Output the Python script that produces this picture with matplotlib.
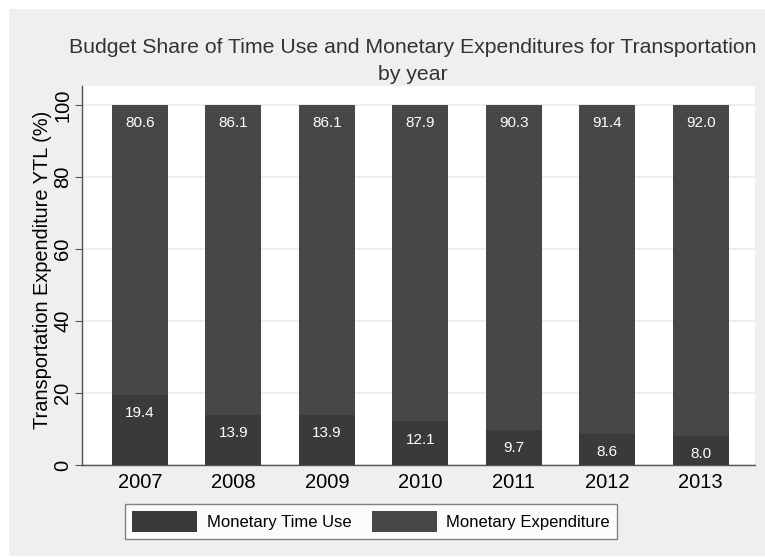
import matplotlib.pyplot as plt
from matplotlib.patches import Rectangle

plt.rcParams['font.family'] = ['Liberation Sans', 'DejaVu Sans']

years = ['2007', '2008', '2009', '2010', '2011', '2012', '2013']
time_use = [19.4, 13.9, 13.9, 12.1, 9.7, 8.6, 8.0]
expenditure = [80.6, 86.1, 86.1, 87.9, 90.3, 91.4, 92.0]

c_time = '#3a3a3a'
c_exp = '#474747'

fig = plt.figure(figsize=(7.65, 5.58), dpi=100, facecolor='white')
fig.patches.append(Rectangle((9 / 765, 2 / 558), 1 - 9 / 765, 1 - 11 / 558,
                             transform=fig.transFigure, facecolor='#efefef',
                             edgecolor='none', zorder=-10))

ax = fig.add_axes([82 / 765, 93 / 558, 673 / 765, 379 / 558])
ax.set_facecolor('white')

x = list(range(1, len(years) + 1))
ax.bar(x, time_use, width=0.6, color=c_time, label='Monetary Time Use', zorder=3)
ax.bar(x, expenditure, width=0.6, bottom=time_use, color=c_exp,
       label='Monetary Expenditure', zorder=3)

for xi, t, e in zip(x, time_use, expenditure):
    ax.annotate(f'{t:.1f}', (xi, t), xytext=(0, -13), textcoords='offset points',
                ha='center', va='center', color='white', fontsize=11, zorder=4)
    ax.annotate(f'{e:.1f}', (xi, t + e), xytext=(0, -13), textcoords='offset points',
                ha='center', va='center', color='white', fontsize=11, zorder=4)

ax.set_xlim(0.38, 7.58)
ax.set_ylim(0, 105.3)
ax.set_xticks(x)
ax.set_xticklabels(years, fontsize=14.5)
ax.set_yticks([0, 20, 40, 60, 80, 100])
ax.set_yticklabels(['0', '20', '40', '60', '80', '100'], rotation=90, va='center', fontsize=14.5)
ax.tick_params(axis='x', length=0, pad=6)
ax.tick_params(axis='y', length=5, color='#555555', pad=2)
ax.yaxis.grid(True, color='#eaeaea', linewidth=1.2, zorder=0)
ax.set_axisbelow(True)

for s in ['top', 'right']:
    ax.spines[s].set_visible(False)
for s in ['left', 'bottom']:
    ax.spines[s].set_color('#555555')
    ax.spines[s].set_linewidth(1)

ax.set_ylabel('Transportation Expenditure YTL (%)', fontsize=14.4)
ax.yaxis.set_label_coords(-0.045, 0.515)
ax.set_title('Budget Share of Time Use and Monetary Expenditures for Transportation\nby year',
             fontsize=15.3, color='#333333', pad=4, linespacing=1.58, x=0.492)

leg = ax.legend(loc='center', bbox_to_anchor=(371 / 765, 1 - 521.5 / 558),
                bbox_transform=fig.transFigure, ncol=2, fontsize=12,
                frameon=True, fancybox=False, edgecolor='#666666',
                handlelength=3.9, handleheight=1.6, columnspacing=1.2,
                handletextpad=0.6, borderpad=0.4, borderaxespad=0)
leg.get_frame().set_linewidth(1)

fig.savefig('out.png', dpi=100, facecolor=fig.get_facecolor())
